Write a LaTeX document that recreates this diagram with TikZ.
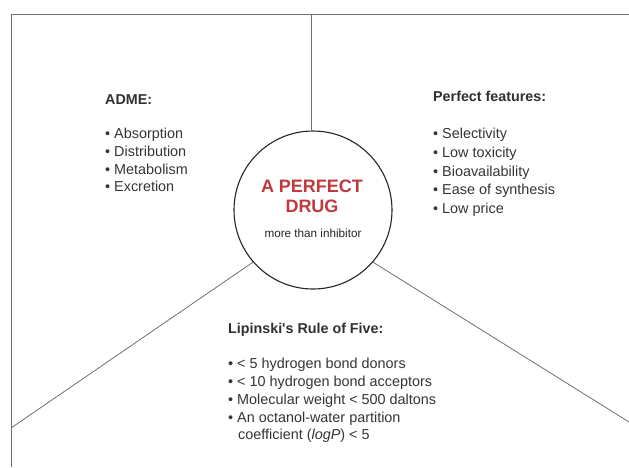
\documentclass[tikz,border=0pt]{standalone}
\usepackage{fontspec}
\setmainfont{Liberation Sans}
\definecolor{txt}{HTML}{353535}
\definecolor{ttl}{HTML}{303030}
\definecolor{drugred}{HTML}{BE3A3C}
\definecolor{edge}{HTML}{707070}
\begin{document}
\begin{tikzpicture}[x=1pt,y=-1pt,
  title/.style={anchor=base west,inner sep=0pt,font=\fontsize{14.3}{17}\selectfont\bfseries,text=ttl},
  item/.style={anchor=base west,inner sep=0pt,font=\fontsize{14.4}{17}\selectfont,text=txt},
  border/.style={draw=edge,line width=0.8pt},
  hub/.style={circle,draw=black!85,line width=1.1pt,minimum size=158pt,inner sep=0pt}]
\useasboundingbox (0,0) rectangle (629,467);
\fill[white] (0,0) rectangle (629,467);
% frame
\coordinate (tl) at (11,14);
\coordinate (tr) at (629,14);
\coordinate (bl) at (11,467);
\coordinate (topmid) at (311,14);
\coordinate (leftend) at (11,428);
\coordinate (rightend) at (629,422);
\draw[border] (tr) -- (tl) -- (bl);
% hub
\node[hub] (drug) at (313,210) {};
\node[anchor=base,inner sep=0pt,font=\fontsize{18}{20}\selectfont\bfseries,text=drugred] (l1) at (312,192) {A PERFECT};
\node[anchor=base,inner sep=0pt,font=\fontsize{18}{20}\selectfont\bfseries,text=drugred] (l2) at (312,212) {DRUG};
\node[anchor=base,inner sep=0pt,font=\fontsize{11.7}{13}\selectfont,text=black!85] (l3) at (313,237) {more than inhibitor};
% connectors
\draw[border] (topmid) -- (drug.north -| topmid);
\draw[border] (drug.221.5) -- (leftend);
\draw[border] (drug.319) -- (rightend);
% ADME
\node[title] (adme) at (105,104) {ADME:};
\node[item] (a1) at (105,138) {\textbullet\ Absorption};
\node[item] (a2) at (105,156) {\textbullet\ Distribution};
\node[item] (a3) at (105,174) {\textbullet\ Metabolism};
\node[item] (a4) at (105,191) {\textbullet\ Excretion};
% Perfect features
\node[title] (pf) at (433,101) {Perfect features:};
\node[item] (p1) at (433,138) {\textbullet\ Selectivity};
\node[item] (p2) at (433,157) {\textbullet\ Low toxicity};
\node[item] (p3) at (433,176) {\textbullet\ Bioavailability};
\node[item] (p4) at (433,194) {\textbullet\ Ease of synthesis};
\node[item] (p5) at (433,213) {\textbullet\ Low price};
% Lipinski
\node[title] (lip) at (228,333) {Lipinski\textquotesingle s Rule of Five:};
\node[item] (r1) at (228,368) {\textbullet\ < 5 hydrogen bond donors};
\node[item] (r2) at (228,386) {\textbullet\ < 10 hydrogen bond acceptors};
\node[item] (r3) at (228,404) {\textbullet\ Molecular weight < 500 daltons};
\node[item] (r4) at (228,422) {\textbullet\ An octanol-water partition};
\node[item] (r5) at (238,439) {coefficient (\textit{logP}) < 5};
\end{tikzpicture}
\end{document}
